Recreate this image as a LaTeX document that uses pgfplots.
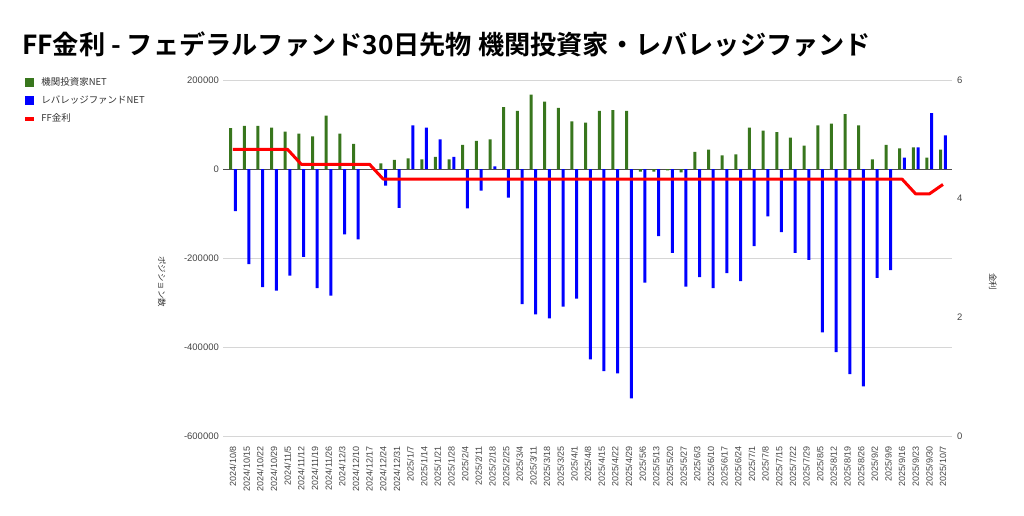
\documentclass[border=0pt]{standalone}
\usepackage{pgfplots}
\pgfplotsset{compat=1.18}
\usepackage{fontspec}
\setmainfont{Liberation Sans}
\newfontfamily\cjk{Noto Sans CJK JP}[BoldFont={Noto Sans CJK JP Bold}]
\definecolor{gInst}{RGB}{56,118,29}
\definecolor{bLev}{RGB}{0,0,255}
\definecolor{txt}{RGB}{68,68,68}
\definecolor{gridc}{RGB}{214,214,214}

\pgfplotstableread{
x y
0 91600
1 96800
2 96800
3 93100
4 84000
5 79500
6 73500
7 120100
8 79500
9 56300
11 12800
12 20300
13 24000
14 21800
15 27000
16 21800
17 54000
18 63000
19 66800
20 138800
21 130600
22 167300
23 151600
24 137300
25 107300
26 104300
27 130600
28 132100
29 130600
30 -6000
31 -6000
32 -3000
33 -7500
34 38300
35 43500
36 30800
37 33000
38 93100
39 86300
40 82600
41 70500
42 52500
43 98300
44 102100
45 123100
46 98300
47 21800
48 54000
49 46500
50 48800
51 25500
52 43500
}\inst

\pgfplotstableread{
x y
0 -94600
1 -213900
2 -265700
3 -273200
4 -239400
5 -197400
6 -267900
7 -284400
8 -147100
9 -158300
11 -37500
12 -87100
13 98300
14 93100
15 66800
16 27000
17 -88600
18 -48800
19 6000
20 -64500
21 -303900
22 -326500
23 -335500
24 -309200
25 -291200
26 -427800
27 -454000
28 -459300
29 -515600
30 -255200
31 -150800
32 -188400
33 -264200
34 -243200
35 -267900
36 -234100
37 -252200
38 -173400
39 -106600
40 -141800
41 -188400
42 -204100
43 -367000
44 -411300
45 -460800
46 -488600
47 -244700
48 -227400
49 25500
50 48800
51 125300
52 75800
}\lev

\pgfplotstableread{
x y
0 4.83
1 4.83
2 4.83
3 4.83
4 4.83
5 4.58
6 4.58
7 4.58
8 4.58
9 4.58
10 4.58
11 4.33
12 4.33
13 4.33
14 4.33
15 4.33
16 4.33
17 4.33
18 4.33
19 4.33
20 4.33
21 4.33
22 4.33
23 4.33
24 4.33
25 4.33
26 4.33
27 4.33
28 4.33
29 4.33
30 4.33
31 4.33
32 4.33
33 4.33
34 4.33
35 4.33
36 4.33
37 4.33
38 4.33
39 4.33
40 4.33
41 4.33
42 4.33
43 4.33
44 4.33
45 4.33
46 4.33
47 4.33
48 4.33
49 4.33
50 4.08
51 4.08
52 4.24
}\ff

\begin{document}
\begin{tikzpicture}
\path[use as bounding box] (0,0) rectangle (1024bp,516bp);
\node[anchor=west, inner sep=0pt, font=\cjk\bfseries\fontsize{26.3}{30}\selectfont] at (22bp,472bp)
  {FF金利 - フェデラルファンド30日先物 機関投資家・レバレッジファンド};

\begin{axis}[
  at={(223bp,80bp)}, anchor=south west,
  scale only axis, width=729bp, height=356bp,
  xmin=-0.73, xmax=52.66,
  ymin=-600000, ymax=200000,
  ytick={-600000,-400000,-200000,0,200000},
  scaled y ticks=false,
  axis line style={draw=none},
  major tick length=0pt,
  ymajorgrids, grid style={gridc, line width=0.9bp},
  extra y ticks={0}, extra y tick labels={},
  extra y tick style={grid style={black!70, line width=1bp}},
  xtick={0,...,52},
  xticklabels={2024/10/8, 2024/10/15, 2024/10/22, 2024/10/29, 2024/11/5, 2024/11/12, 2024/11/19, 2024/11/26, 2024/12/3, 2024/12/10, 2024/12/17, 2024/12/24, 2024/12/31, 2025/1/7, 2025/1/14, 2025/1/21, 2025/1/28, 2025/2/4, 2025/2/11, 2025/2/18, 2025/2/25, 2025/3/4, 2025/3/11, 2025/3/18, 2025/3/25, 2025/4/1, 2025/4/8, 2025/4/15, 2025/4/22, 2025/4/29, 2025/5/6, 2025/5/13, 2025/5/20, 2025/5/27, 2025/6/3, 2025/6/10, 2025/6/17, 2025/6/24, 2025/7/1, 2025/7/8, 2025/7/15, 2025/7/22, 2025/7/29, 2025/8/5, 2025/8/12, 2025/8/19, 2025/8/26, 2025/9/2, 2025/9/9, 2025/9/16, 2025/9/23, 2025/9/30, 2025/10/7},
  xticklabel style={rotate=90, anchor=east, inner sep=0pt, font=\fontsize{9}{10}\selectfont, text=txt},
  xticklabel shift=10bp,
  yticklabel style={inner sep=0pt, font=\fontsize{9.5}{11}\selectfont, text=txt,
     /pgf/number format/fixed, /pgf/number format/1000 sep={}, /pgf/number format/assume math mode=true},
  yticklabel shift=4bp,
  ylabel={\cjk ポジション数},
  ylabel style={at={(rel axis cs:-0.084,0.433)}, anchor=center, rotate=180, font=\fontsize{8.5}{10}\selectfont, text=black!80},
  legend style={at={(rel axis cs:-0.2718,1.014)}, anchor=north west, draw=none, fill=none,
     font=\cjk\fontsize{9.5}{11}\selectfont, text=black!80, row sep=5bp, inner sep=0pt,
     /tikz/every odd column/.style={column sep=6bp}},
  legend cell align=left,
]
\addplot[ybar, bar width=3bp, bar shift=-2.35bp, fill=gInst, draw=none, forget plot] table[x=x,y=y] {\inst};
\addplot[ybar, bar width=3bp, bar shift=2.35bp, fill=bLev, draw=none, forget plot] table[x=x,y=y] {\lev};
\addlegendimage{legend image code/.code={\fill[gInst] (0bp,-4bp) rectangle (8bp,4bp);}}
\addlegendentry{機関投資家NET}
\addlegendimage{legend image code/.code={\fill[bLev] (0bp,-4bp) rectangle (8bp,4bp);}}
\addlegendentry{レバレッジファンドNET}
\addlegendimage{legend image code/.code={\fill[red] (0bp,-1.5bp) rectangle (8bp,1.5bp);}}
\addlegendentry{FF金利}
\end{axis}

\begin{axis}[
  at={(223bp,80bp)}, anchor=south west,
  scale only axis, width=729bp, height=356bp,
  xmin=-0.73, xmax=52.66,
  ymin=0, ymax=6,
  ytick={0,2,4,6},
  axis y line*=right, axis x line=none,
  axis line style={draw=none},
  major tick length=0pt,
  yticklabel style={inner sep=0pt, anchor=west, font=\fontsize{9.5}{11}\selectfont, text=txt,
     /pgf/number format/assume math mode=true},
  yticklabel shift=5bp,
  ylabel={\cjk 金利},
  ylabel style={at={(rel axis cs:1.056,0.433)}, anchor=center, rotate=180, font=\fontsize{8.5}{10}\selectfont, text=black!80},
]
\addplot[red, line width=3bp, line join=round, mark=none] table[x=x,y=y] {\ff};
\end{axis}
\end{tikzpicture}
\end{document}
